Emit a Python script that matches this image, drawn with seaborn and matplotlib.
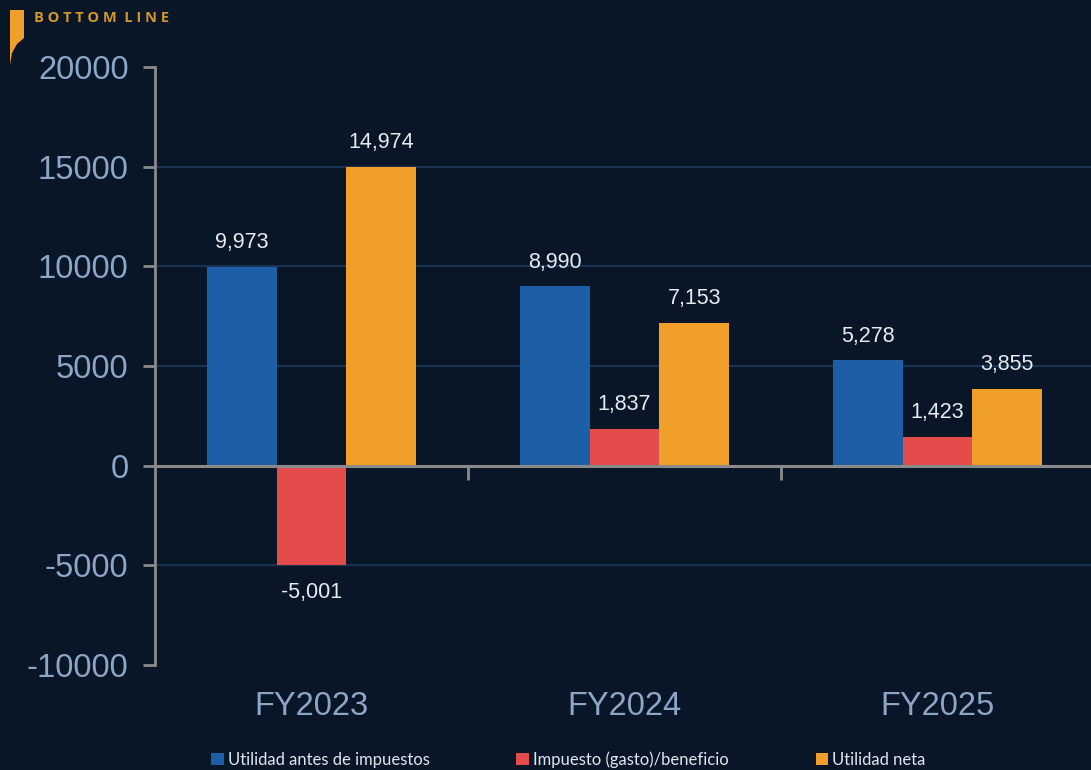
import pandas as pd
import matplotlib.pyplot as plt
import seaborn as sns
from matplotlib.patches import Polygon

# Datos
years = ['FY2023', 'FY2024', 'FY2025']
series = ['Utilidad antes de impuestos', 'Impuesto (gasto)/beneficio', 'Utilidad neta']
antes_impuestos = [9973, 8990, 5278]
impuesto = [-5001, 1837, 1423]
utilidad_neta = [14974, 7153, 3855]
y_ticks = [-10000, -5000, 0, 5000, 10000, 15000, 20000]

BG = '#081628'
COLORS = ['#1c5fa6', '#e44c4c', '#f0a02a']
TICK_COLOR = '#8da6c6'
GRID_COLOR = '#1b3352'
AXIS_GRAY = '#8a8a8a'

df = pd.DataFrame({
    'year': years * 3,
    'serie': [s for s in series for _ in years],
    'valor': antes_impuestos + impuesto + utilidad_neta,
})

sns.set_theme(style='dark')
plt.rcParams['font.family'] = ['Liberation Sans', 'DejaVu Sans']

fig = plt.figure(figsize=(10.91, 7.70), dpi=100, facecolor=BG)
ax = fig.add_axes([155 / 1091, 1 - 665 / 770, 939 / 1091, 598 / 770])
ax.set_facecolor(BG)

sns.barplot(data=df, x='year', y='valor', hue='serie', order=years,
            hue_order=series, palette=COLORS, width=0.67, gap=0,
            saturation=1, ax=ax, legend=True, zorder=3,
            edgecolor='none', linewidth=0)

ax.set_ylim(-10000, 20000)
ax.set_xlim(-0.5, 2.5)
ax.set_yticks(y_ticks)
ax.set_yticklabels([str(t) for t in y_ticks])
ax.set_xlabel('')
ax.set_ylabel('')

# grid y línea cero
for t in y_ticks:
    if t not in (0, -10000, 20000):
        ax.axhline(t, color=GRID_COLOR, lw=1.5, zorder=1)
ax.axhline(0, color=AXIS_GRAY, lw=2.2, zorder=4)

for side in ['top', 'right', 'bottom']:
    ax.spines[side].set_visible(False)
ax.spines['left'].set_color(AXIS_GRAY)
ax.spines['left'].set_linewidth(2)

ax.tick_params(axis='y', which='major', left=True, length=9, width=2,
               color=AXIS_GRAY, labelcolor=TICK_COLOR, labelsize=23.5, pad=10)
ax.tick_params(axis='x', which='major', bottom=False, labelcolor=TICK_COLOR,
               labelsize=23.5, pad=13)
ax.set_xticks([0.5, 1.5], minor=True)
ax.tick_params(axis='x', which='minor', bottom=True, length=10, width=2,
               color=AXIS_GRAY, direction='out')
# los ticks menores cuelgan de la línea cero
for tick in ax.xaxis.get_minor_ticks():
    tick.tick1line.set_transform(ax.transData)
    tick.tick1line.set_ydata([0])

# etiquetas de valor
for container in ax.containers:
    for bar in container:
        h = bar.get_height()
        x = bar.get_x() + bar.get_width() / 2
        offset = 10 if h >= 0 else -12
        ax.annotate(f'{h:,.0f}', (x, h), xytext=(0, offset),
                    textcoords='offset points', ha='center',
                    va='bottom' if h >= 0 else 'top',
                    color='#e6ebf0', fontsize=15.5, zorder=5)

# leyenda
handles, labels = ax.get_legend_handles_labels()
ax.get_legend().remove()
for h in handles:
    h.set_edgecolor('none')
leg = fig.legend(handles, labels, loc='center', bbox_to_anchor=(0.521, 0.014),
                 ncol=3, frameon=False, handlelength=0.75, handleheight=0.75,
                 handletextpad=0.25, columnspacing=5.2,
                 prop={'family': ['Lato', 'DejaVu Sans'], 'size': 12})
for txt in leg.get_texts():
    txt.set_color('#dfe6ee')

# encabezado
fig.text(34 / 1091, 1 - 18 / 770, 'B O T T O M  L I N E', color='#d4962a',
         fontsize=10.5, fontweight='bold', va='center', ha='left',
         family=['Open Sans', 'DejaVu Sans'])
deco = [(10, 10), (24, 10), (24, 38), (17, 44), (12, 53), (10, 65)]
fig.patches.append(Polygon([(x / 1091, 1 - y / 770) for x, y in deco],
                           closed=True, transform=fig.transFigure,
                           facecolor='#f0a02a', edgecolor='none'))

fig.savefig('out.png', dpi=100, facecolor=BG)
